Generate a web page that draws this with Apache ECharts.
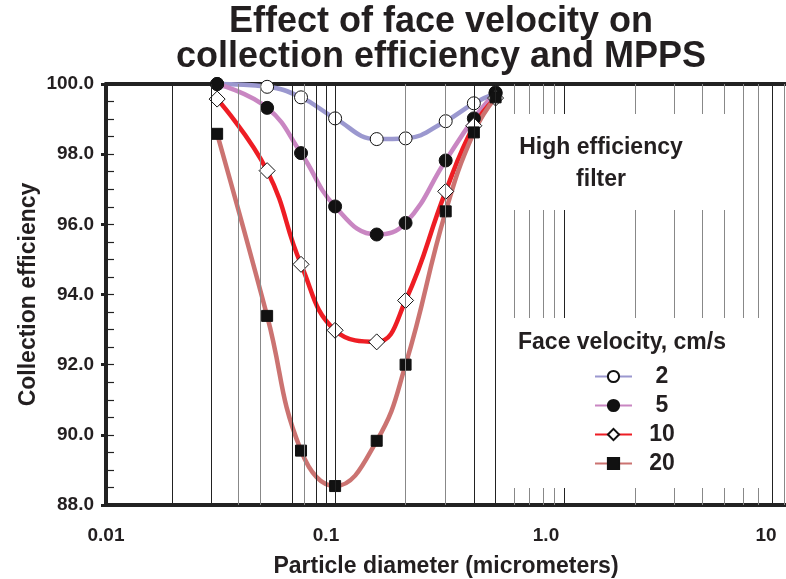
<!DOCTYPE html>
<html>
<head>
<meta charset="utf-8">
<script src="https://cdn.jsdelivr.net/npm/echarts@6/dist/echarts.min.js"></script>
<style>
html,body{margin:0;padding:0;background:#fff;}
#c{width:786px;height:579px;}
</style>
</head>
<body>
<div id="c"></div>
<script>
// ---- data ----
const diameters = [0.032, 0.054, 0.077, 0.11, 0.17, 0.23, 0.35, 0.47, 0.59];
const eff2  = [100.0, 99.92, 99.62, 99.02, 98.43, 98.45, 98.94, 99.45, 99.73];
const eff5  = [100.0, 99.32, 98.03, 96.51, 95.71, 96.04, 97.82, 99.02, 99.76];
const eff10 = [99.57, 97.53, 94.86, 92.98, 92.65, 93.83, 96.94, 98.81, 99.60];
const eff20 = [98.58, 93.39, 89.55, 88.54, 89.83, 92.00, 96.37, 98.62, 99.62];
const seriesNames = ['2', '5', '10', '20'];
const xTickValues = [0.01, 0.1, 1, 10];
const xTickLabels = ['0.01', '0.1', '1.0', '10'];
const gridLinesDark = [0.021, 0.032, 0.065, 0.088, 0.1, 0.11, 0.47, 0.59, 1.21, 10.65];
const gridLinesGray = [0.043, 0.054, 0.077, 0.23, 0.35, 0.716, 0.837, 0.969, 1.087, 2.54, 3.82, 5.12, 6.44, 7.86, 9.2, 12.08];

const FONT = '"Liberation Sans", Arial, Helvetica, sans-serif';
const TXT = '#231f20';
const pairs = arr => diameters.map((d, i) => [d, arr[i]]);

const chart = echarts.init(document.getElementById('c'));

const lineSeries = (name, data, color, symbol, size, fill) => ({
  name, type: 'line', data: pairs(data), smooth: 0.45, clip: false, z: 3,
  symbol, symbolSize: size, showSymbol: true,
  lineStyle: { color, width: 4.5 },
  itemStyle: { color: fill, borderColor: '#111', borderWidth: 1 },
  emphasis: { disabled: true }
});

const markData = gridLinesDark.map(v => ({ xAxis: v, lineStyle: { color: '#222', width: 1, type: 'solid' } }))
  .concat(gridLinesGray.map(v => ({ xAxis: v, lineStyle: { color: '#888', width: 1, type: 'solid' } })));

chart.setOption({
  animation: false,
  backgroundColor: '#fff',
  title: {
    text: 'Effect of face velocity on\ncollection efficiency and MPPS',
    left: 441, textAlign: 'center', top: 5, padding: 0,
    textStyle: { fontFamily: FONT, fontSize: 36, fontWeight: 'bold', lineHeight: 35, color: TXT }
  },
  grid: { left: 106, right: 0, top: 84, bottom: 74, containLabel: false, outerBoundsMode: 'none' },
  xAxis: [{
    type: 'log', logBase: 10, min: 0.01, max: 12.33,
    name: 'Particle diameter (micrometers)', nameLocation: 'middle', nameGap: 50, nameMoveOverlap: false,
    nameTextStyle: { fontFamily: FONT, fontSize: 23, fontWeight: 'bold', color: TXT },
    axisLine: { show: true, onZero: false, lineStyle: { color: '#222', width: 4 } },
    axisTick: { show: false },
    splitLine: { show: false },
    minorTick: { show: false }, minorSplitLine: { show: false },
    axisLabel: {
      margin: 21, showMaxLabel: false, fontFamily: FONT, fontSize: 19, fontWeight: 'bold', color: TXT,
      formatter: v => {
        const i = xTickValues.findIndex(t => Math.abs(Math.log10(t) - Math.log10(v)) < 1e-6);
        return i >= 0 ? xTickLabels[i] : '';
      }
    }
  }, {
    type: 'value', position: 'top', min: 0, max: 1,
    axisLine: { show: true, lineStyle: { color: '#222', width: 4 } },
    axisTick: { show: false }, axisLabel: { show: false }, splitLine: { show: false }
  }],
  yAxis: [{
    type: 'value', min: 88, max: 100, interval: 2,
    name: 'Collection efficiency', nameLocation: 'middle', nameGap: 66, nameMoveOverlap: false,
    nameTextStyle: { fontFamily: FONT, fontSize: 23, fontWeight: 'bold', color: TXT },
    axisLine: { show: true, onZero: false, lineStyle: { color: '#222', width: 4 } },
    axisTick: { show: true, length: 5, lineStyle: { color: '#222', width: 3 } },
    splitLine: { show: false },
    axisLabel: { margin: 12, fontFamily: FONT, fontSize: 19, fontWeight: 'bold', color: TXT, formatter: v => v.toFixed(1) }
  }, {
    type: 'value', min: 88, max: 100, interval: 0.5, position: 'left',
    axisLine: { show: false },
    axisTick: { show: true, inside: true, length: 8, lineStyle: { color: '#222', width: 1.2 } },
    axisLabel: { show: false }, splitLine: { show: false }
  }],
  legend: {
    data: seriesNames, orient: 'vertical', left: 594, top: 365, padding: 0, z: 30,
    itemWidth: 37, itemHeight: 14, itemGap: 6, selectedMode: false,
    formatter: name => '{c|' + name + '}',
    textStyle: {
      fontFamily: FONT, fontSize: 23, fontWeight: 'bold', color: TXT,
      rich: { c: { width: 50, align: 'center', fontFamily: FONT, fontSize: 23, fontWeight: 'bold', color: TXT, lineHeight: 24 } }
    }
  },
  graphic: [
    { type: 'rect', z: 10, shape: { x: 504, y: 114, width: 232, height: 96 }, style: { fill: '#fff' } },
    { type: 'rect', z: 10, shape: { x: 504, y: 318, width: 262, height: 170 }, style: { fill: '#fff' } },
    { type: 'text', z: 20, x: 601, y: 148, style: { text: 'High efficiency', font: 'bold 23px ' + FONT, fill: TXT, textAlign: 'center', textVerticalAlign: 'middle' } },
    { type: 'text', z: 20, x: 601, y: 180, style: { text: 'filter', font: 'bold 23px ' + FONT, fill: TXT, textAlign: 'center', textVerticalAlign: 'middle' } },
    { type: 'text', z: 20, x: 622, y: 343, style: { text: 'Face velocity, cm/s', font: 'bold 23px ' + FONT, fill: TXT, textAlign: 'center', textVerticalAlign: 'middle' } }
  ],
  series: [
    {
      type: 'line', data: [], z: 1, silent: true,
      markLine: { silent: true, symbol: 'none', label: { show: false }, animation: false, data: markData }
    },
    lineSeries(seriesNames[0], eff2, '#9b98cf', 'circle', 13, '#fff'),
    lineSeries(seriesNames[1], eff5, '#c986c2', 'circle', 13, '#111'),
    lineSeries(seriesNames[2], eff10, '#ee1d24', 'diamond', 16, '#fff'),
    lineSeries(seriesNames[3], eff20, '#cb7371', 'rect', 11, '#111')
  ]
});
</script>
</body>
</html>
